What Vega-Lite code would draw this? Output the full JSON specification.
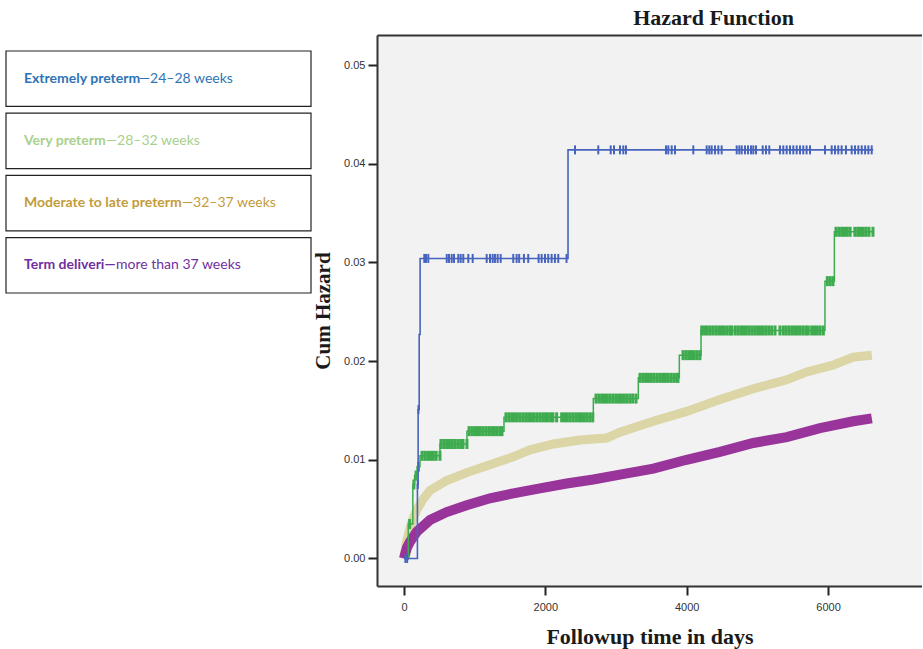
{
 "$schema": "https://vega.github.io/schema/vega-lite/v6.json",
 "width": 545,
 "height": 551,
 "autosize": {"type": "none"},
 "padding": {"left": 377, "top": 35, "right": 0, "bottom": 63},
 "background": "white",
 "config": {
  "view": {"fill": "#f2f2f2", "stroke": null},
  "axis": {"labelFont": "Liberation Sans", "labelFontSize": 11, "labelColor": "#333", "titleFont": "Liberation Serif", "titleFontWeight": "bold", "titleColor": "#1a1a1a", "domainColor": "#333", "domainWidth": 2, "tickColor": "#222", "tickWidth": 2, "grid": false}
 },
 "title": {"text": "Hazard Function", "font": "Liberation Serif", "fontSize": 22, "fontWeight": "bold", "color": "#1a1a1a", "anchor": "middle", "dx": 64, "offset": 5},
 "datasets": {
  "beige": [
   {"day": 0, "value": 0}, {"day": 30, "value": 0.0015}, {"day": 70, "value": 0.0027}, {"day": 120, "value": 0.0039}, {"day": 180, "value": 0.0049}, {"day": 269, "value": 0.006}, {"day": 368, "value": 0.0069}, {"day": 604, "value": 0.0079}, {"day": 887, "value": 0.0087}, {"day": 1217, "value": 0.0095}, {"day": 1547, "value": 0.0103}, {"day": 1783, "value": 0.011}, {"day": 2113, "value": 0.0116}, {"day": 2490, "value": 0.012}, {"day": 2868, "value": 0.0122}, {"day": 3056, "value": 0.0128}, {"day": 3528, "value": 0.0139}, {"day": 4000, "value": 0.0149}, {"day": 4471, "value": 0.0161}, {"day": 4943, "value": 0.0172}, {"day": 5415, "value": 0.0181}, {"day": 5698, "value": 0.0189}, {"day": 6075, "value": 0.0196}, {"day": 6358, "value": 0.0204}, {"day": 6620, "value": 0.0206}
  ],
  "purple": [
   {"day": 0, "value": 0}, {"day": 14, "value": 0.0004}, {"day": 42, "value": 0.0011}, {"day": 85, "value": 0.0017}, {"day": 180, "value": 0.0027}, {"day": 368, "value": 0.0039}, {"day": 604, "value": 0.0047}, {"day": 887, "value": 0.0054}, {"day": 1217, "value": 0.0061}, {"day": 1547, "value": 0.0066}, {"day": 1924, "value": 0.0071}, {"day": 2302, "value": 0.0076}, {"day": 2679, "value": 0.008}, {"day": 3056, "value": 0.0085}, {"day": 3528, "value": 0.0091}, {"day": 4000, "value": 0.01}, {"day": 4471, "value": 0.0108}, {"day": 4943, "value": 0.0117}, {"day": 5415, "value": 0.0123}, {"day": 5887, "value": 0.0132}, {"day": 6358, "value": 0.0139}, {"day": 6620, "value": 0.0142}
  ],
  "green": [
   {"day": 0, "value": 0}, {"day": 60, "value": 0.0035}, {"day": 125, "value": 0.0075}, {"day": 150, "value": 0.0084}, {"day": 185, "value": 0.0093}, {"day": 226, "value": 0.0104}, {"day": 509, "value": 0.0116}, {"day": 891, "value": 0.0129}, {"day": 1415, "value": 0.0143}, {"day": 2679, "value": 0.0162}, {"day": 3316, "value": 0.0183}, {"day": 3896, "value": 0.0206}, {"day": 4203, "value": 0.0231}, {"day": 5957, "value": 0.0281}, {"day": 6090, "value": 0.0331}, {"day": 6640, "value": 0.0331}
  ],
  "blue": [
   {"day": 0, "value": 0}, {"day": 190, "value": 0.0075}, {"day": 200, "value": 0.0151}, {"day": 215, "value": 0.0227}, {"day": 228, "value": 0.0304}, {"day": 2321, "value": 0.0414}, {"day": 6640, "value": 0.0414}
  ],
  "greenCensor": [
   {"day": 80, "value": 0.0035}, {"day": 140, "value": 0.0075}, {"day": 170, "value": 0.0084}, {"day": 205, "value": 0.0093},
   {"day": 255, "value": 0.0104}, {"day": 295, "value": 0.0104}, {"day": 335, "value": 0.0104}, {"day": 375, "value": 0.0104}, {"day": 415, "value": 0.0104}, {"day": 455, "value": 0.0104}, {"day": 509, "value": 0.0104},
   {"day": 523, "value": 0.0116}, {"day": 563, "value": 0.0116}, {"day": 603, "value": 0.0116}, {"day": 643, "value": 0.0116}, {"day": 683, "value": 0.0116}, {"day": 723, "value": 0.0116}, {"day": 763, "value": 0.0116}, {"day": 803, "value": 0.0116}, {"day": 835, "value": 0.0116}, {"day": 891, "value": 0.0116},
   {"day": 920, "value": 0.0129}, {"day": 960, "value": 0.0129}, {"day": 1000, "value": 0.0129}, {"day": 1040, "value": 0.0129}, {"day": 1080, "value": 0.0129}, {"day": 1120, "value": 0.0129}, {"day": 1160, "value": 0.0129}, {"day": 1200, "value": 0.0129}, {"day": 1240, "value": 0.0129}, {"day": 1280, "value": 0.0129}, {"day": 1320, "value": 0.0129}, {"day": 1360, "value": 0.0129}, {"day": 1387, "value": 0.0129},
   {"day": 1443, "value": 0.0143}, {"day": 1483, "value": 0.0143}, {"day": 1523, "value": 0.0143}, {"day": 1563, "value": 0.0143}, {"day": 1603, "value": 0.0143}, {"day": 1643, "value": 0.0143}, {"day": 1683, "value": 0.0143}, {"day": 1723, "value": 0.0143}, {"day": 1763, "value": 0.0143}, {"day": 1803, "value": 0.0143}, {"day": 1843, "value": 0.0143}, {"day": 1883, "value": 0.0143}, {"day": 1923, "value": 0.0143}, {"day": 1963, "value": 0.0143}, {"day": 2003, "value": 0.0143}, {"day": 2043, "value": 0.0143}, {"day": 2083, "value": 0.0143}, {"day": 2108, "value": 0.0143}, {"day": 2160, "value": 0.0143}, {"day": 2231, "value": 0.0143}, {"day": 2271, "value": 0.0143}, {"day": 2311, "value": 0.0143}, {"day": 2351, "value": 0.0143}, {"day": 2391, "value": 0.0143}, {"day": 2431, "value": 0.0143}, {"day": 2471, "value": 0.0143}, {"day": 2511, "value": 0.0143}, {"day": 2551, "value": 0.0143}, {"day": 2591, "value": 0.0143}, {"day": 2631, "value": 0.0143}, {"day": 2671, "value": 0.0143},
   {"day": 2717, "value": 0.0162}, {"day": 2757, "value": 0.0162}, {"day": 2797, "value": 0.0162}, {"day": 2837, "value": 0.0162}, {"day": 2877, "value": 0.0162}, {"day": 2917, "value": 0.0162}, {"day": 2957, "value": 0.0162}, {"day": 2997, "value": 0.0162}, {"day": 3037, "value": 0.0162}, {"day": 3077, "value": 0.0162}, {"day": 3117, "value": 0.0162}, {"day": 3157, "value": 0.0162}, {"day": 3197, "value": 0.0162}, {"day": 3237, "value": 0.0162}, {"day": 3283, "value": 0.0162},
   {"day": 3339, "value": 0.0183}, {"day": 3379, "value": 0.0183}, {"day": 3419, "value": 0.0183}, {"day": 3459, "value": 0.0183}, {"day": 3499, "value": 0.0183}, {"day": 3539, "value": 0.0183}, {"day": 3579, "value": 0.0183}, {"day": 3619, "value": 0.0183}, {"day": 3659, "value": 0.0183}, {"day": 3699, "value": 0.0183}, {"day": 3739, "value": 0.0183}, {"day": 3779, "value": 0.0183}, {"day": 3819, "value": 0.0183}, {"day": 3859, "value": 0.0183}, {"day": 3877, "value": 0.0183},
   {"day": 3948, "value": 0.0206}, {"day": 3988, "value": 0.0206}, {"day": 4028, "value": 0.0206}, {"day": 4068, "value": 0.0206}, {"day": 4108, "value": 0.0206}, {"day": 4148, "value": 0.0206}, {"day": 4188, "value": 0.0206},
   {"day": 4213, "value": 0.0231}, {"day": 4253, "value": 0.0231}, {"day": 4293, "value": 0.0231}, {"day": 4333, "value": 0.0231}, {"day": 4373, "value": 0.0231}, {"day": 4413, "value": 0.0231}, {"day": 4453, "value": 0.0231}, {"day": 4493, "value": 0.0231}, {"day": 4533, "value": 0.0231}, {"day": 4573, "value": 0.0231}, {"day": 4613, "value": 0.0231}, {"day": 4637, "value": 0.0231}, {"day": 4684, "value": 0.0231}, {"day": 4724, "value": 0.0231}, {"day": 4764, "value": 0.0231}, {"day": 4804, "value": 0.0231}, {"day": 4844, "value": 0.0231}, {"day": 4884, "value": 0.0231}, {"day": 4924, "value": 0.0231}, {"day": 4964, "value": 0.0231}, {"day": 5004, "value": 0.0231}, {"day": 5044, "value": 0.0231}, {"day": 5084, "value": 0.0231}, {"day": 5124, "value": 0.0231}, {"day": 5164, "value": 0.0231}, {"day": 5204, "value": 0.0231}, {"day": 5250, "value": 0.0231}, {"day": 5320, "value": 0.0231}, {"day": 5367, "value": 0.0231}, {"day": 5407, "value": 0.0231}, {"day": 5447, "value": 0.0231}, {"day": 5487, "value": 0.0231}, {"day": 5527, "value": 0.0231}, {"day": 5567, "value": 0.0231}, {"day": 5607, "value": 0.0231}, {"day": 5647, "value": 0.0231}, {"day": 5687, "value": 0.0231}, {"day": 5721, "value": 0.0231}, {"day": 5769, "value": 0.0231}, {"day": 5809, "value": 0.0231}, {"day": 5849, "value": 0.0231}, {"day": 5889, "value": 0.0231}, {"day": 5934, "value": 0.0231},
   {"day": 5990, "value": 0.0281}, {"day": 6030, "value": 0.0281}, {"day": 6070, "value": 0.0281},
   {"day": 6113, "value": 0.0331}, {"day": 6153, "value": 0.0331}, {"day": 6193, "value": 0.0331}, {"day": 6233, "value": 0.0331}, {"day": 6273, "value": 0.0331}, {"day": 6313, "value": 0.0331}, {"day": 6380, "value": 0.0331}, {"day": 6420, "value": 0.0331}, {"day": 6460, "value": 0.0331}, {"day": 6500, "value": 0.0331}, {"day": 6540, "value": 0.0331}, {"day": 6580, "value": 0.0331}, {"day": 6636, "value": 0.0331}
  ],
  "blueCensor": [
   {"day": 20, "value": 0}, {"day": 45, "value": 0}, {"day": 195, "value": 0.0075}, {"day": 205, "value": 0.0151},
   {"day": 287, "value": 0.0304}, {"day": 311, "value": 0.0304}, {"day": 344, "value": 0.0304}, {"day": 605, "value": 0.0304}, {"day": 637, "value": 0.0304}, {"day": 675, "value": 0.0304}, {"day": 708, "value": 0.0304}, {"day": 768, "value": 0.0304}, {"day": 802, "value": 0.0304}, {"day": 839, "value": 0.0304}, {"day": 910, "value": 0.0304}, {"day": 972, "value": 0.0304}, {"day": 1170, "value": 0.0304}, {"day": 1217, "value": 0.0304}, {"day": 1255, "value": 0.0304}, {"day": 1287, "value": 0.0304}, {"day": 1325, "value": 0.0304}, {"day": 1368, "value": 0.0304}, {"day": 1546, "value": 0.0304}, {"day": 1594, "value": 0.0304}, {"day": 1630, "value": 0.0304}, {"day": 1697, "value": 0.0304}, {"day": 1758, "value": 0.0304}, {"day": 1905, "value": 0.0304}, {"day": 1948, "value": 0.0304}, {"day": 1995, "value": 0.0304}, {"day": 2041, "value": 0.0304}, {"day": 2089, "value": 0.0304}, {"day": 2136, "value": 0.0304}, {"day": 2183, "value": 0.0304}, {"day": 2300, "value": 0.0304},
   {"day": 2420, "value": 0.0414}, {"day": 2749, "value": 0.0414}, {"day": 2925, "value": 0.0414}, {"day": 2972, "value": 0.0414}, {"day": 3056, "value": 0.0414}, {"day": 3103, "value": 0.0414}, {"day": 3141, "value": 0.0414}, {"day": 3707, "value": 0.0414}, {"day": 3740, "value": 0.0414}, {"day": 3788, "value": 0.0414}, {"day": 3835, "value": 0.0414}, {"day": 4094, "value": 0.0414}, {"day": 4283, "value": 0.0414}, {"day": 4320, "value": 0.0414}, {"day": 4354, "value": 0.0414}, {"day": 4401, "value": 0.0414}, {"day": 4448, "value": 0.0414}, {"day": 4495, "value": 0.0414}, {"day": 4708, "value": 0.0414}, {"day": 4745, "value": 0.0414}, {"day": 4779, "value": 0.0414}, {"day": 4825, "value": 0.0414}, {"day": 4868, "value": 0.0414}, {"day": 4910, "value": 0.0414}, {"day": 4943, "value": 0.0414}, {"day": 4981, "value": 0.0414}, {"day": 5076, "value": 0.0414}, {"day": 5122, "value": 0.0414}, {"day": 5169, "value": 0.0414}, {"day": 5320, "value": 0.0414}, {"day": 5367, "value": 0.0414}, {"day": 5415, "value": 0.0414}, {"day": 5462, "value": 0.0414}, {"day": 5509, "value": 0.0414}, {"day": 5557, "value": 0.0414}, {"day": 5604, "value": 0.0414}, {"day": 5650, "value": 0.0414}, {"day": 5697, "value": 0.0414}, {"day": 5745, "value": 0.0414}, {"day": 5957, "value": 0.0414}, {"day": 6052, "value": 0.0414}, {"day": 6099, "value": 0.0414}, {"day": 6145, "value": 0.0414}, {"day": 6193, "value": 0.0414}, {"day": 6254, "value": 0.0414}, {"day": 6335, "value": 0.0414}, {"day": 6382, "value": 0.0414}, {"day": 6429, "value": 0.0414}, {"day": 6477, "value": 0.0414}, {"day": 6525, "value": 0.0414}, {"day": 6571, "value": 0.0414}, {"day": 6618, "value": 0.0414}
  ],
  "legend": [
   {"key": "A", "bold": "Extremely preterm", "rest": "—24–28 weeks"},
   {"key": "B", "bold": "Very preterm", "rest": "—28–32 weeks"},
   {"key": "C", "bold": "Moderate to late preterm", "rest": "—32–37 weeks"},
   {"key": "D", "bold": "Term deliveri—", "rest": "more than 37 weeks"}
  ]
 },
 "layer": [
  {
   "layer": [
    {
     "data": {"name": "beige"},
     "mark": {"type": "line", "color": "#dcd5a6", "strokeWidth": 9, "strokeCap": "butt"},
     "encoding": {
      "x": {"field": "day", "type": "quantitative", "scale": {"domain": [-382, 7330], "nice": false, "zero": false},
            "axis": {"values": [0, 2000, 4000, 6000], "format": "d", "tickSize": 9, "labelPadding": 6, "title": "Followup time in days", "titleFontSize": 22, "titlePadding": 14}},
      "y": {"field": "value", "type": "quantitative", "scale": {"domain": [-0.00279, 0.05304], "nice": false, "zero": false},
            "axis": {"values": [0, 0.01, 0.02, 0.03, 0.04, 0.05], "format": ".2f", "tickSize": 9, "labelPadding": 3, "title": "Cum Hazard", "titleFontSize": 21, "titlePadding": 10}}
     }
    },
    {
     "data": {"name": "purple"},
     "mark": {"type": "line", "color": "#98349a", "strokeWidth": 10, "strokeCap": "butt"},
     "encoding": {
      "x": {"field": "day", "type": "quantitative", "axis": null},
      "y": {"field": "value", "type": "quantitative"}
     }
    },
    {
     "data": {"name": "green"},
     "mark": {"type": "line", "color": "#3dab4e", "strokeWidth": 1.5, "interpolate": "step-after"},
     "encoding": {
      "x": {"field": "day", "type": "quantitative", "axis": null},
      "y": {"field": "value", "type": "quantitative"}
     }
    },
    {
     "data": {"name": "greenCensor"},
     "mark": {"type": "tick", "orient": "vertical", "color": "#3dab4e", "size": 10, "thickness": 3, "opacity": 1},
     "encoding": {
      "x": {"field": "day", "type": "quantitative", "axis": null},
      "y": {"field": "value", "type": "quantitative"}
     }
    },
    {
     "data": {"name": "blue"},
     "mark": {"type": "line", "color": "#4664bd", "strokeWidth": 1.6, "interpolate": "step-after"},
     "encoding": {
      "x": {"field": "day", "type": "quantitative", "axis": null},
      "y": {"field": "value", "type": "quantitative"}
     }
    },
    {
     "data": {"name": "blueCensor"},
     "mark": {"type": "tick", "orient": "vertical", "color": "#4664bd", "size": 9, "thickness": 2, "opacity": 1},
     "encoding": {
      "x": {"field": "day", "type": "quantitative", "axis": {"orient": "top", "labels": false, "ticks": false, "title": null}},
      "y": {"field": "value", "type": "quantitative"}
     }
    }
   ],
   "resolve": {"axis": {"x": "independent"}}
  },
  {
   "data": {"name": "legend"},
   "encoding": {
    "y": {"field": "key", "type": "nominal", "sort": null, "axis": null, "scale": {"range": [16, 258], "paddingInner": 0.11, "paddingOuter": 0}}
   },
   "layer": [
    {
     "mark": {"type": "rect", "fill": "white", "stroke": "#222", "strokeWidth": 1.2},
     "encoding": {
      "x": {"datum": 0, "type": "quantitative", "scale": {"domain": [0, 1], "range": [-371, -66]}, "axis": null},
      "x2": {"datum": 1}
     }
    },
    {
     "mark": {"type": "text", "align": "left", "baseline": "middle", "font": "Lato", "fontSize": 14, "fontWeight": "bold", "dx": 18},
     "encoding": {
      "x": {"datum": 0, "type": "quantitative", "axis": null},
      "text": {"field": "bold"},
      "color": {"field": "key", "type": "nominal", "legend": null, "scale": {"domain": ["A", "B", "C", "D"], "range": ["#2e74b5", "#a8d08d", "#c49b3c", "#7030a0"]}}
     }
    },
    {
     "transform": [{"filter": "datum.key === 'A'"}],
     "mark": {"type": "text", "align": "left", "baseline": "middle", "font": "Lato", "fontSize": 14, "dx": 133},
     "encoding": {"x": {"datum": 0, "type": "quantitative", "axis": null}, "text": {"field": "rest"}, "color": {"field": "key", "type": "nominal", "legend": null}}
    },
    {
     "transform": [{"filter": "datum.key === 'B'"}],
     "mark": {"type": "text", "align": "left", "baseline": "middle", "font": "Lato", "fontSize": 14, "dx": 100},
     "encoding": {"x": {"datum": 0, "type": "quantitative", "axis": null}, "text": {"field": "rest"}, "color": {"field": "key", "type": "nominal", "legend": null}}
    },
    {
     "transform": [{"filter": "datum.key === 'C'"}],
     "mark": {"type": "text", "align": "left", "baseline": "middle", "font": "Lato", "fontSize": 14, "dx": 176},
     "encoding": {"x": {"datum": 0, "type": "quantitative", "axis": null}, "text": {"field": "rest"}, "color": {"field": "key", "type": "nominal", "legend": null}}
    },
    {
     "transform": [{"filter": "datum.key === 'D'"}],
     "mark": {"type": "text", "align": "left", "baseline": "middle", "font": "Lato", "fontSize": 14, "dx": 110},
     "encoding": {"x": {"datum": 0, "type": "quantitative", "axis": null}, "text": {"field": "rest"}, "color": {"field": "key", "type": "nominal", "legend": null}}
    }
   ]
  }
 ],
 "resolve": {"scale": {"x": "independent", "y": "independent"}}
}
